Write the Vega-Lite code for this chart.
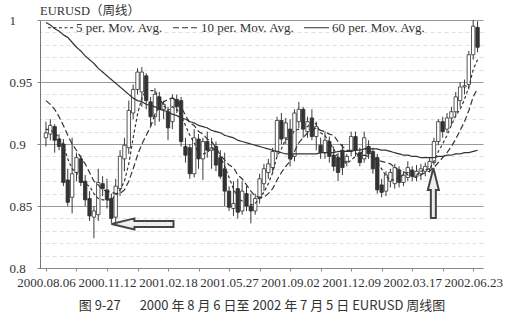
{
  "$schema": "https://vega.github.io/schema/vega-lite/v6.json",
  "width": 443,
  "height": 248,
  "autosize": "none",
  "padding": {"left": 40, "top": 20, "right": 36, "bottom": 56},
  "background": "white",
  "config": {
    "font": "Liberation Serif",
    "view": {"stroke": null}
  },
  "title": {
    "text": "EURUSD（周线）",
    "anchor": "start",
    "frame": "group",
    "offset": -3,
    "font": "'Liberation Serif', 'Noto Sans CJK SC', serif",
    "fontSize": 12.5,
    "fontWeight": "normal",
    "color": "#333333"
  },
  "datasets": {
    "weekly": [
      {"date": "2000-08-06", "open": 0.905, "high": 0.918, "low": 0.898, "close": 0.909, "ma5": 0.912, "ma10": 0.935, "ma60": 0.998},
      {"date": "2000-08-13", "open": 0.908, "high": 0.920, "low": 0.903, "close": 0.915, "ma5": 0.911, "ma10": 0.932, "ma60": 0.996},
      {"date": "2000-08-20", "open": 0.914, "high": 0.916, "low": 0.893, "close": 0.903, "ma5": 0.909, "ma10": 0.928, "ma60": 0.993},
      {"date": "2000-08-27", "open": 0.904, "high": 0.908, "low": 0.895, "close": 0.898, "ma5": 0.905, "ma10": 0.922, "ma60": 0.991},
      {"date": "2000-09-03", "open": 0.900, "high": 0.904, "low": 0.866, "close": 0.869, "ma5": 0.899, "ma10": 0.915, "ma60": 0.988},
      {"date": "2000-09-10", "open": 0.871, "high": 0.880, "low": 0.850, "close": 0.853, "ma5": 0.888, "ma10": 0.907, "ma60": 0.986},
      {"date": "2000-09-17", "open": 0.857, "high": 0.905, "low": 0.844, "close": 0.876, "ma5": 0.880, "ma10": 0.900, "ma60": 0.982},
      {"date": "2000-09-24", "open": 0.877, "high": 0.893, "low": 0.870, "close": 0.889, "ma5": 0.877, "ma10": 0.895, "ma60": 0.978},
      {"date": "2000-10-01", "open": 0.888, "high": 0.891, "low": 0.866, "close": 0.869, "ma5": 0.871, "ma10": 0.889, "ma60": 0.975},
      {"date": "2000-10-08", "open": 0.870, "high": 0.875, "low": 0.850, "close": 0.855, "ma5": 0.868, "ma10": 0.884, "ma60": 0.971},
      {"date": "2000-10-15", "open": 0.856, "high": 0.862, "low": 0.838, "close": 0.842, "ma5": 0.866, "ma10": 0.877, "ma60": 0.968},
      {"date": "2000-10-22", "open": 0.841, "high": 0.850, "low": 0.824, "close": 0.846, "ma5": 0.860, "ma10": 0.870, "ma60": 0.965},
      {"date": "2000-10-29", "open": 0.843, "high": 0.880, "low": 0.838, "close": 0.869, "ma5": 0.856, "ma10": 0.867, "ma60": 0.961},
      {"date": "2000-11-05", "open": 0.868, "high": 0.874, "low": 0.858, "close": 0.864, "ma5": 0.855, "ma10": 0.863, "ma60": 0.958},
      {"date": "2000-11-12", "open": 0.863, "high": 0.872, "low": 0.848, "close": 0.855, "ma5": 0.855, "ma10": 0.862, "ma60": 0.955},
      {"date": "2000-11-19", "open": 0.856, "high": 0.860, "low": 0.836, "close": 0.840, "ma5": 0.855, "ma10": 0.861, "ma60": 0.952},
      {"date": "2000-11-26", "open": 0.841, "high": 0.872, "low": 0.836, "close": 0.866, "ma5": 0.859, "ma10": 0.860, "ma60": 0.949},
      {"date": "2000-12-03", "open": 0.864, "high": 0.895, "low": 0.858, "close": 0.890, "ma5": 0.863, "ma10": 0.860, "ma60": 0.946},
      {"date": "2000-12-10", "open": 0.888, "high": 0.905, "low": 0.878, "close": 0.899, "ma5": 0.870, "ma10": 0.863, "ma60": 0.943},
      {"date": "2000-12-17", "open": 0.897, "high": 0.935, "low": 0.892, "close": 0.927, "ma5": 0.884, "ma10": 0.870, "ma60": 0.940},
      {"date": "2000-12-24", "open": 0.925, "high": 0.948, "low": 0.920, "close": 0.944, "ma5": 0.905, "ma10": 0.880, "ma60": 0.937},
      {"date": "2000-12-31", "open": 0.944, "high": 0.961, "low": 0.940, "close": 0.958, "ma5": 0.924, "ma10": 0.891, "ma60": 0.935},
      {"date": "2001-01-07", "open": 0.942, "high": 0.962, "low": 0.930, "close": 0.958, "ma5": 0.937, "ma10": 0.900, "ma60": 0.934},
      {"date": "2001-01-14", "open": 0.955, "high": 0.957, "low": 0.928, "close": 0.935, "ma5": 0.944, "ma10": 0.907, "ma60": 0.932},
      {"date": "2001-01-21", "open": 0.934, "high": 0.938, "low": 0.915, "close": 0.922, "ma5": 0.943, "ma10": 0.914, "ma60": 0.931},
      {"date": "2001-01-28", "open": 0.922, "high": 0.945, "low": 0.915, "close": 0.940, "ma5": 0.943, "ma10": 0.924, "ma60": 0.930},
      {"date": "2001-02-04", "open": 0.938, "high": 0.942, "low": 0.918, "close": 0.928, "ma5": 0.937, "ma10": 0.930, "ma60": 0.928},
      {"date": "2001-02-11", "open": 0.928, "high": 0.935, "low": 0.920, "close": 0.932, "ma5": 0.931, "ma10": 0.934, "ma60": 0.927},
      {"date": "2001-02-18", "open": 0.926, "high": 0.930, "low": 0.903, "close": 0.913, "ma5": 0.927, "ma10": 0.936, "ma60": 0.926},
      {"date": "2001-02-25", "open": 0.918, "high": 0.940, "low": 0.912, "close": 0.937, "ma5": 0.930, "ma10": 0.937, "ma60": 0.924},
      {"date": "2001-03-04", "open": 0.936, "high": 0.940, "low": 0.925, "close": 0.930, "ma5": 0.928, "ma10": 0.935, "ma60": 0.923},
      {"date": "2001-03-11", "open": 0.935, "high": 0.938, "low": 0.898, "close": 0.902, "ma5": 0.923, "ma10": 0.930, "ma60": 0.921},
      {"date": "2001-03-18", "open": 0.898, "high": 0.905, "low": 0.885, "close": 0.891, "ma5": 0.915, "ma10": 0.923, "ma60": 0.920},
      {"date": "2001-03-25", "open": 0.897, "high": 0.900, "low": 0.872, "close": 0.876, "ma5": 0.907, "ma10": 0.917, "ma60": 0.918},
      {"date": "2001-04-01", "open": 0.876, "high": 0.912, "low": 0.873, "close": 0.905, "ma5": 0.901, "ma10": 0.915, "ma60": 0.917},
      {"date": "2001-04-08", "open": 0.904, "high": 0.908, "low": 0.880, "close": 0.888, "ma5": 0.892, "ma10": 0.910, "ma60": 0.915},
      {"date": "2001-04-15", "open": 0.888, "high": 0.905, "low": 0.871, "close": 0.902, "ma5": 0.892, "ma10": 0.908, "ma60": 0.914},
      {"date": "2001-04-22", "open": 0.902, "high": 0.910, "low": 0.889, "close": 0.895, "ma5": 0.893, "ma10": 0.904, "ma60": 0.913},
      {"date": "2001-04-29", "open": 0.895, "high": 0.905, "low": 0.880, "close": 0.897, "ma5": 0.897, "ma10": 0.902, "ma60": 0.911},
      {"date": "2001-05-06", "open": 0.898, "high": 0.902, "low": 0.878, "close": 0.883, "ma5": 0.893, "ma10": 0.897, "ma60": 0.910},
      {"date": "2001-05-13", "open": 0.889, "high": 0.895, "low": 0.872, "close": 0.874, "ma5": 0.890, "ma10": 0.891, "ma60": 0.909},
      {"date": "2001-05-20", "open": 0.880, "high": 0.893, "low": 0.850, "close": 0.862, "ma5": 0.882, "ma10": 0.887, "ma60": 0.907},
      {"date": "2001-05-27", "open": 0.862, "high": 0.866, "low": 0.846, "close": 0.849, "ma5": 0.873, "ma10": 0.883, "ma60": 0.906},
      {"date": "2001-06-03", "open": 0.848, "high": 0.870, "low": 0.842, "close": 0.852, "ma5": 0.864, "ma10": 0.881, "ma60": 0.905},
      {"date": "2001-06-10", "open": 0.864, "high": 0.872, "low": 0.840, "close": 0.845, "ma5": 0.856, "ma10": 0.875, "ma60": 0.903},
      {"date": "2001-06-17", "open": 0.846, "high": 0.870, "low": 0.843, "close": 0.862, "ma5": 0.854, "ma10": 0.872, "ma60": 0.902},
      {"date": "2001-06-24", "open": 0.860, "high": 0.866, "low": 0.846, "close": 0.850, "ma5": 0.852, "ma10": 0.867, "ma60": 0.901},
      {"date": "2001-07-01", "open": 0.850, "high": 0.860, "low": 0.836, "close": 0.846, "ma5": 0.851, "ma10": 0.862, "ma60": 0.900},
      {"date": "2001-07-08", "open": 0.846, "high": 0.860, "low": 0.843, "close": 0.856, "ma5": 0.852, "ma10": 0.858, "ma60": 0.899},
      {"date": "2001-07-15", "open": 0.856, "high": 0.876, "low": 0.852, "close": 0.872, "ma5": 0.857, "ma10": 0.857, "ma60": 0.898},
      {"date": "2001-07-22", "open": 0.868, "high": 0.884, "low": 0.862, "close": 0.880, "ma5": 0.861, "ma10": 0.857, "ma60": 0.897},
      {"date": "2001-07-29", "open": 0.877, "high": 0.888, "low": 0.872, "close": 0.884, "ma5": 0.868, "ma10": 0.860, "ma60": 0.896},
      {"date": "2001-08-05", "open": 0.881, "high": 0.897, "low": 0.876, "close": 0.894, "ma5": 0.877, "ma10": 0.864, "ma60": 0.895},
      {"date": "2001-08-12", "open": 0.894, "high": 0.922, "low": 0.890, "close": 0.919, "ma5": 0.890, "ma10": 0.871, "ma60": 0.894},
      {"date": "2001-08-19", "open": 0.919, "high": 0.925, "low": 0.900, "close": 0.904, "ma5": 0.896, "ma10": 0.877, "ma60": 0.893},
      {"date": "2001-08-26", "open": 0.905, "high": 0.921, "low": 0.900, "close": 0.917, "ma5": 0.904, "ma10": 0.882, "ma60": 0.892},
      {"date": "2001-09-02", "open": 0.912, "high": 0.920, "low": 0.882, "close": 0.888, "ma5": 0.904, "ma10": 0.886, "ma60": 0.892},
      {"date": "2001-09-09", "open": 0.890, "high": 0.928, "low": 0.886, "close": 0.925, "ma5": 0.911, "ma10": 0.894, "ma60": 0.892},
      {"date": "2001-09-16", "open": 0.918, "high": 0.934, "low": 0.913, "close": 0.928, "ma5": 0.912, "ma10": 0.901, "ma60": 0.892},
      {"date": "2001-09-23", "open": 0.928, "high": 0.930, "low": 0.905, "close": 0.912, "ma5": 0.914, "ma10": 0.905, "ma60": 0.892},
      {"date": "2001-09-30", "open": 0.910, "high": 0.922, "low": 0.905, "close": 0.918, "ma5": 0.914, "ma10": 0.909, "ma60": 0.892},
      {"date": "2001-10-07", "open": 0.921, "high": 0.928, "low": 0.903, "close": 0.906, "ma5": 0.918, "ma10": 0.911, "ma60": 0.892},
      {"date": "2001-10-14", "open": 0.906, "high": 0.918, "low": 0.895, "close": 0.914, "ma5": 0.916, "ma10": 0.913, "ma60": 0.892},
      {"date": "2001-10-21", "open": 0.899, "high": 0.905, "low": 0.888, "close": 0.893, "ma5": 0.909, "ma10": 0.911, "ma60": 0.893},
      {"date": "2001-10-28", "open": 0.893, "high": 0.910, "low": 0.888, "close": 0.903, "ma5": 0.907, "ma10": 0.910, "ma60": 0.893},
      {"date": "2001-11-04", "open": 0.902, "high": 0.906, "low": 0.885, "close": 0.890, "ma5": 0.901, "ma10": 0.908, "ma60": 0.893},
      {"date": "2001-11-11", "open": 0.891, "high": 0.898, "low": 0.878, "close": 0.882, "ma5": 0.896, "ma10": 0.907, "ma60": 0.893},
      {"date": "2001-11-18", "open": 0.889, "high": 0.893, "low": 0.870, "close": 0.877, "ma5": 0.889, "ma10": 0.902, "ma60": 0.894},
      {"date": "2001-11-25", "open": 0.895, "high": 0.900, "low": 0.875, "close": 0.881, "ma5": 0.887, "ma10": 0.898, "ma60": 0.894},
      {"date": "2001-12-02", "open": 0.886, "high": 0.892, "low": 0.882, "close": 0.890, "ma5": 0.884, "ma10": 0.895, "ma60": 0.894},
      {"date": "2001-12-09", "open": 0.895, "high": 0.910, "low": 0.890, "close": 0.906, "ma5": 0.887, "ma10": 0.894, "ma60": 0.894},
      {"date": "2001-12-16", "open": 0.906, "high": 0.910, "low": 0.890, "close": 0.895, "ma5": 0.890, "ma10": 0.893, "ma60": 0.895},
      {"date": "2001-12-23", "open": 0.893, "high": 0.897, "low": 0.882, "close": 0.885, "ma5": 0.891, "ma10": 0.890, "ma60": 0.895},
      {"date": "2001-12-30", "open": 0.888, "high": 0.910, "low": 0.885, "close": 0.905, "ma5": 0.896, "ma10": 0.891, "ma60": 0.896},
      {"date": "2002-01-06", "open": 0.898, "high": 0.903, "low": 0.888, "close": 0.892, "ma5": 0.897, "ma10": 0.890, "ma60": 0.896},
      {"date": "2002-01-13", "open": 0.894, "high": 0.897, "low": 0.876, "close": 0.880, "ma5": 0.891, "ma10": 0.889, "ma60": 0.896},
      {"date": "2002-01-20", "open": 0.889, "high": 0.892, "low": 0.860, "close": 0.863, "ma5": 0.885, "ma10": 0.887, "ma60": 0.896},
      {"date": "2002-01-27", "open": 0.867, "high": 0.872, "low": 0.857, "close": 0.861, "ma5": 0.880, "ma10": 0.886, "ma60": 0.895},
      {"date": "2002-02-03", "open": 0.862, "high": 0.878, "low": 0.858, "close": 0.875, "ma5": 0.874, "ma10": 0.885, "ma60": 0.895},
      {"date": "2002-02-10", "open": 0.870, "high": 0.880, "low": 0.865, "close": 0.877, "ma5": 0.871, "ma10": 0.884, "ma60": 0.894},
      {"date": "2002-02-17", "open": 0.868, "high": 0.884, "low": 0.864, "close": 0.881, "ma5": 0.871, "ma10": 0.881, "ma60": 0.893},
      {"date": "2002-02-24", "open": 0.879, "high": 0.882, "low": 0.865, "close": 0.869, "ma5": 0.873, "ma10": 0.879, "ma60": 0.892},
      {"date": "2002-03-03", "open": 0.869, "high": 0.878, "low": 0.866, "close": 0.875, "ma5": 0.875, "ma10": 0.878, "ma60": 0.891},
      {"date": "2002-03-10", "open": 0.873, "high": 0.886, "low": 0.870, "close": 0.881, "ma5": 0.877, "ma10": 0.875, "ma60": 0.891},
      {"date": "2002-03-17", "open": 0.879, "high": 0.882, "low": 0.870, "close": 0.874, "ma5": 0.876, "ma10": 0.874, "ma60": 0.890},
      {"date": "2002-03-24", "open": 0.874, "high": 0.883, "low": 0.870, "close": 0.878, "ma5": 0.875, "ma10": 0.873, "ma60": 0.890},
      {"date": "2002-03-31", "open": 0.876, "high": 0.884, "low": 0.871, "close": 0.880, "ma5": 0.878, "ma10": 0.875, "ma60": 0.889},
      {"date": "2002-04-07", "open": 0.878, "high": 0.885, "low": 0.874, "close": 0.882, "ma5": 0.879, "ma10": 0.877, "ma60": 0.889},
      {"date": "2002-04-14", "open": 0.880, "high": 0.889, "low": 0.877, "close": 0.886, "ma5": 0.880, "ma10": 0.878, "ma60": 0.889},
      {"date": "2002-04-21", "open": 0.885, "high": 0.905, "low": 0.883, "close": 0.902, "ma5": 0.886, "ma10": 0.881, "ma60": 0.889},
      {"date": "2002-04-28", "open": 0.902, "high": 0.920, "low": 0.899, "close": 0.918, "ma5": 0.894, "ma10": 0.885, "ma60": 0.890},
      {"date": "2002-05-05", "open": 0.918, "high": 0.922, "low": 0.905, "close": 0.910, "ma5": 0.900, "ma10": 0.889, "ma60": 0.890},
      {"date": "2002-05-12", "open": 0.912, "high": 0.925, "low": 0.909, "close": 0.921, "ma5": 0.907, "ma10": 0.893, "ma60": 0.891},
      {"date": "2002-05-19", "open": 0.921, "high": 0.930, "low": 0.915, "close": 0.926, "ma5": 0.915, "ma10": 0.898, "ma60": 0.891},
      {"date": "2002-05-26", "open": 0.926, "high": 0.942, "low": 0.922, "close": 0.938, "ma5": 0.923, "ma10": 0.904, "ma60": 0.892},
      {"date": "2002-06-02", "open": 0.935, "high": 0.950, "low": 0.930, "close": 0.946, "ma5": 0.928, "ma10": 0.911, "ma60": 0.892},
      {"date": "2002-06-09", "open": 0.946, "high": 0.952, "low": 0.940, "close": 0.947, "ma5": 0.936, "ma10": 0.918, "ma60": 0.893},
      {"date": "2002-06-16", "open": 0.948, "high": 0.975, "low": 0.944, "close": 0.972, "ma5": 0.946, "ma10": 0.927, "ma60": 0.893},
      {"date": "2002-06-23", "open": 0.972, "high": 1.000, "low": 0.968, "close": 0.995, "ma5": 0.960, "ma10": 0.938, "ma60": 0.894},
      {"date": "2002-06-30", "open": 0.994, "high": 0.999, "low": 0.974, "close": 0.978, "ma5": 0.968, "ma10": 0.945, "ma60": 0.895}
    ],
    "arrows": [
      {"date": "2001-01-08", "price": 0.8355, "kind": "left"},
      {"date": "2002-04-20", "price": 0.8605, "kind": "up"}
    ]
  },
  "data": {"name": "weekly"},
  "encoding": {
    "x": {
      "field": "date",
      "type": "temporal",
      "scale": {
        "type": "utc",
        "domain": [
          {"year": 2000, "month": 8, "date": 4, "hours": 11, "utc": true},
          {"year": 2002, "month": 6, "date": 30, "hours": 17, "utc": true}
        ]
      },
      "axis": {
        "values": [
          {"year": 2000, "month": 8, "date": 6, "utc": true},
          {"year": 2000, "month": 9, "date": 24, "utc": true},
          {"year": 2000, "month": 11, "date": 12, "utc": true},
          {"year": 2000, "month": 12, "date": 31, "utc": true},
          {"year": 2001, "month": 2, "date": 18, "utc": true},
          {"year": 2001, "month": 4, "date": 8, "utc": true},
          {"year": 2001, "month": 5, "date": 27, "utc": true},
          {"year": 2001, "month": 7, "date": 15, "utc": true},
          {"year": 2001, "month": 9, "date": 2, "utc": true},
          {"year": 2001, "month": 10, "date": 21, "utc": true},
          {"year": 2001, "month": 12, "date": 9, "utc": true},
          {"year": 2002, "month": 1, "date": 27, "utc": true},
          {"year": 2002, "month": 3, "date": 17, "utc": true},
          {"year": 2002, "month": 5, "date": 5, "utc": true},
          {"year": 2002, "month": 6, "date": 23, "utc": true}
        ],
        "labelExpr": "round((datum.value - utc(2000, 7, 6)) / 604800000) % 14 == 0 ? utcFormat(datum.value, '%Y.%m.%d') : ''",
        "labelOverlap": false,
        "labelFlush": false,
        "labelBound": false,
        "labelFont": "Liberation Serif",
        "labelFontSize": 13,
        "labelColor": "#333333",
        "labelPadding": 5,
        "tickSize": 3,
        "tickColor": "#888888",
        "domainColor": "#888888",
        "grid": false,
        "title": "图 9-27\u3000\u00a0\u00a02000 年 8 月 6 日至 2002 年 7 月 5 日 EURUSD 周线图",
        "titleFont": "Noto Sans CJK SC",
        "titleFontSize": 13,
        "titleFontWeight": "normal",
        "titleColor": "#333333",
        "titlePadding": 10
      }
    }
  },
  "layer": [
    {
      "mark": {"type": "rule", "color": "#3a3a3a", "strokeWidth": 1},
      "encoding": {
        "y": {
          "field": "low",
          "type": "quantitative",
          "scale": {"domain": [0.8, 1], "nice": false, "zero": false},
          "axis": {
            "orient": "left",
            "title": null,
            "values": [0.8, 0.85, 0.9, 0.95, 1],
            "format": "~g",
            "labelOverlap": false,
            "labelAlign": "left",
            "labelPadding": 28,
            "labelFont": "Liberation Serif",
            "labelFontSize": 13,
            "labelColor": "#333333",
            "tickSize": 3,
            "tickColor": "#888888",
            "domainColor": "#777777",
            "grid": true,
            "gridColor": "#9a9a9a",
            "gridWidth": 1
          }
        },
        "y2": {"field": "high"}
      }
    },
    {
      "mark": {"type": "bar", "size": 3.4, "stroke": "#2e2e2e", "strokeWidth": 0.8},
      "encoding": {
        "y": {
          "field": "open",
          "type": "quantitative",
          "axis": {
            "orient": "right",
            "title": null,
            "values": [0.81, 0.82, 0.83, 0.84, 0.86, 0.87, 0.88, 0.89, 0.91, 0.92, 0.93, 0.94, 0.96, 0.97, 0.98, 0.99],
            "labels": false,
            "ticks": false,
            "domain": false,
            "grid": true,
            "gridColor": "#e0e0e0",
            "gridDash": [4, 3],
            "gridWidth": 1
          }
        },
        "y2": {"field": "close"},
        "fill": {"condition": {"test": "datum.open > datum.close", "value": "#333333"}, "value": "#ffffff"}
      }
    },
    {
      "transform": [{"fold": ["ma5", "ma10", "ma60"], "as": ["series", "value"]}],
      "mark": {"type": "line", "color": "#333333", "strokeWidth": 1.2},
      "encoding": {
        "y": {"field": "value", "type": "quantitative", "axis": null},
        "strokeDash": {
          "field": "series",
          "type": "nominal",
          "scale": {"domain": ["ma5", "ma10", "ma60"], "range": [[3, 2.5], [6, 3], [1, 0]]},
          "legend": {
            "orient": "none",
            "legendX": 7,
            "legendY": -6,
            "direction": "horizontal",
            "title": null,
            "padding": 0,
            "symbolType": "stroke",
            "symbolSize": 625,
            "symbolStrokeColor": "#333333",
            "symbolStrokeWidth": 1.2,
            "labelFont": "Liberation Serif",
            "labelFontSize": 13,
            "labelColor": "#333333",
            "labelOffset": 2,
            "columnPadding": 6,
            "labelExpr": "datum.label == 'ma5' ? '5 per. Mov. Avg.' : datum.label == 'ma10' ? '10 per. Mov. Avg.' : '60 per. Mov. Avg.'"
          }
        }
      }
    },
    {
      "data": {"name": "arrows"},
      "transform": [{"filter": "datum.kind == 'left'"}],
      "mark": {
        "type": "point",
        "shape": "M -1 0 L -0.26 -0.18 L -0.26 -0.1 L 1 -0.1 L 1 0.1 L -0.26 0.1 L -0.26 0.18 Z",
        "size": 3844,
        "filled": true,
        "fill": "#eeeeee",
        "stroke": "#444444",
        "strokeWidth": 2,
        "opacity": 1
      },
      "encoding": {
        "y": {"field": "price", "type": "quantitative", "axis": null}
      }
    },
    {
      "data": {"name": "arrows"},
      "transform": [{"filter": "datum.kind == 'up'"}],
      "mark": {
        "type": "point",
        "shape": "M 0 -1 L 0.22 -0.12 L 0.1 -0.12 L 0.1 1 L -0.1 1 L -0.1 -0.12 L -0.22 -0.12 Z",
        "size": 2500,
        "filled": true,
        "fill": "#eeeeee",
        "stroke": "#444444",
        "strokeWidth": 2,
        "opacity": 1
      },
      "encoding": {
        "y": {"field": "price", "type": "quantitative", "axis": null}
      }
    }
  ],
  "resolve": {"axis": {"y": "independent"}}
}
